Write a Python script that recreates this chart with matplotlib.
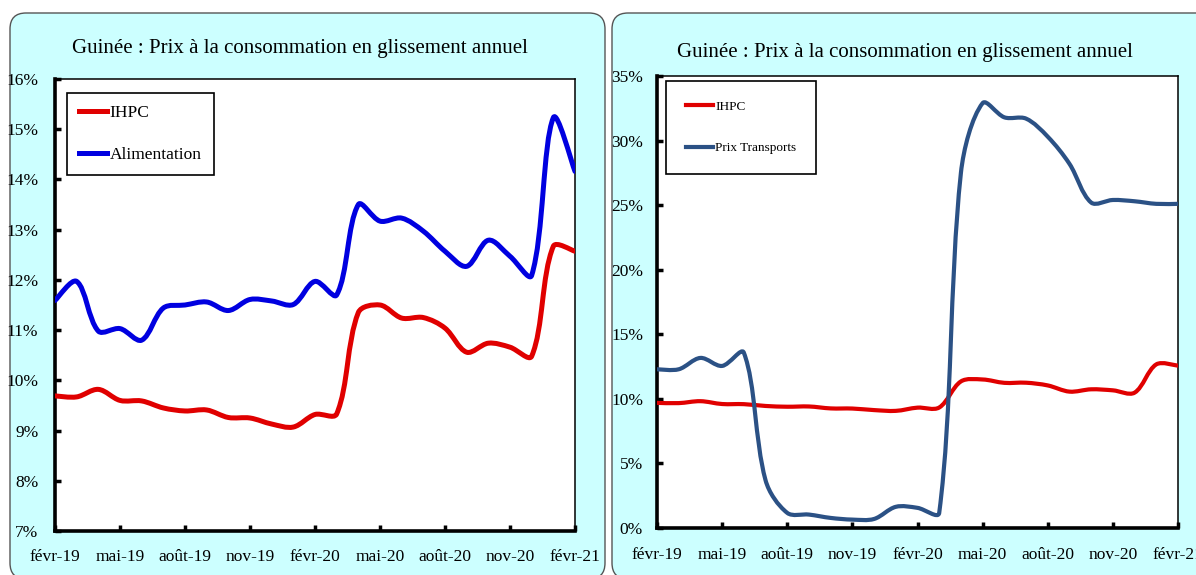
import matplotlib
matplotlib.use("Agg")
import matplotlib.pyplot as plt
import numpy as np
from matplotlib.path import Path
from matplotlib.patches import PathPatch, FancyBboxPatch
from matplotlib.lines import Line2D
from matplotlib.ticker import FuncFormatter

plt.rcParams["font.family"] = ["Liberation Serif", "DejaVu Serif"]

# --------------------------------------------------------------------------
# Data (monthly, févr-19 .. févr-21, % year on year)
# --------------------------------------------------------------------------
months = list(range(25))
tick_pos = [0, 3, 6, 9, 12, 15, 18, 21, 24]
tick_labels = ["févr-19", "mai-19", "août-19", "nov-19", "févr-20",
               "mai-20", "août-20", "nov-20", "févr-21"]

ihpc = [9.69, 9.67, 9.82, 9.60, 9.59, 9.45, 9.39, 9.41, 9.26, 9.25, 9.13, 9.07,
        9.32, 9.33, 11.35, 11.50, 11.24, 11.25, 11.04, 10.56, 10.74, 10.66,
        10.48, 12.67, 12.57]
alimentation = [11.59, 11.97, 10.98, 11.03, 10.80, 11.44, 11.50, 11.56, 11.39,
                11.61, 11.58, 11.51, 11.97, 11.70, 13.50, 13.17, 13.23, 12.97,
                12.57, 12.27, 12.79, 12.47, 12.09, 15.23, 14.16]
transports = [12.29, 12.29, 13.17, 12.55, 13.58, 3.70, 1.17, 1.04, 0.78, 0.65,
              0.70, 1.64, 1.56, 1.17, 27.5, 32.9, 31.8, 31.7, 30.3, 28.2,
              25.2, 25.4, 25.3, 25.1, 25.1]

TITLE = "Guinée : Prix à la consommation en glissement annuel"
RED = "#E00000"
BLUE = "#0000E0"
NAVY = "#2B5185"
CYAN = "#CCFFFF"


def smooth_line(ax, xs, ys, color, lw):
    """Excel-style smoothed line: cubic Bezier through every point,
    control arms weighted by on-screen segment lengths."""
    pts = np.column_stack([xs, ys]).astype(float)
    scr = ax.transData.transform(pts)
    n = len(pts)
    d = np.hypot(*np.diff(scr, axis=0).T)  # screen length of each segment
    verts = [tuple(pts[0])]
    codes = [Path.MOVETO]
    for i in range(n - 1):
        p0, p1 = pts[max(i - 1, 0)], pts[i]
        p2, p3 = pts[i + 1], pts[min(i + 2, n - 1)]
        d01 = d[i - 1] if i > 0 else d[i]
        d23 = d[i + 1] if i + 1 < n - 1 else d[i]
        c1 = p1 + (p2 - p0) * d[i] / (d01 + d[i]) / 3
        c2 = p2 - (p3 - p1) * d[i] / (d[i] + d23) / 3
        verts += [tuple(c1), tuple(c2), tuple(p2)]
        codes += [Path.CURVE4] * 3
    ax.add_patch(PathPatch(Path(verts, codes), fill=False, edgecolor=color,
                           lw=lw, capstyle="round", joinstyle="round",
                           zorder=3))


def style_axes(ax, ymin, ymax, ystep, pad_y, pad_x):
    ax.set_xlim(0, 24)
    ax.set_ylim(ymin, ymax)
    ax.set_xticks(tick_pos)
    ax.set_xticklabels(tick_labels)
    ax.set_yticks(range(ymin, ymax + 1, ystep))
    ax.yaxis.set_major_formatter(FuncFormatter(lambda v, _: f"{v:.0f}%"))
    for side in ("left", "bottom"):
        ax.spines[side].set_linewidth(2.6)
    for side in ("top", "right"):
        ax.spines[side].set_linewidth(1.1)
    ax.tick_params(axis="both", direction="in", length=4, width=2.5,
                   labelsize=12.5)
    ax.tick_params(axis="y", pad=pad_y)
    ax.tick_params(axis="x", pad=pad_x)


fig = plt.figure(figsize=(11.96, 5.75), dpi=100)

# rounded cyan panels (pixel coordinates)
for x0, x1 in [(10, 605), (612, 1215)]:
    fig.patches.append(FancyBboxPatch(
        (x0, -4), x1 - x0, 566, boxstyle="round,pad=0,rounding_size=16",
        transform=None, facecolor=CYAN, edgecolor="#555555", lw=1.0,
        zorder=-10))

# ---------------- left panel ----------------
ax1 = fig.add_axes([55 / 1196, 1 - 531 / 575, 520 / 1196, 452 / 575])
style_axes(ax1, 7, 16, 1, 12, 13)
smooth_line(ax1, months, ihpc, RED, 3.6)
smooth_line(ax1, months, alimentation, BLUE, 3.6)
fig.text(300 / 1196, 1 - 48 / 575, TITLE, ha="center", va="center",
         fontsize=15)
h1 = [Line2D([], [], color=RED, lw=3.6), Line2D([], [], color=BLUE, lw=3.6)]
leg1 = ax1.legend(h1, ["IHPC", "Alimentation"], loc="upper left",
                  bbox_to_anchor=(0.023, 0.969), fontsize=12.5,
                  handlelength=1.6, handletextpad=0.15, labelspacing=1.45,
                  borderpad=0.7, fancybox=False, framealpha=1,
                  borderaxespad=0)
leg1.get_frame().set_edgecolor("black")
leg1.get_frame().set_linewidth(1.2)

# ---------------- right panel ----------------
ax2 = fig.add_axes([657 / 1196, 1 - 528 / 575, 521 / 1196, 452 / 575])
style_axes(ax2, 0, 35, 5, 10, 14)
smooth_line(ax2, months, ihpc, RED, 3.0)
smooth_line(ax2, months, transports, NAVY, 3.0)
fig.text(905 / 1196, 1 - 52 / 575, TITLE, ha="center", va="center",
         fontsize=15)
h2 = [Line2D([], [], color=RED, lw=3.0), Line2D([], [], color=NAVY, lw=3.0)]
leg2 = ax2.legend(h2, ["IHPC", "Prix Transports"], loc="upper left",
                  bbox_to_anchor=(0.017, 0.989), fontsize=9.5,
                  handlelength=2.1, handletextpad=0.15, labelspacing=2.2,
                  borderpad=1.5, fancybox=False, framealpha=1,
                  borderaxespad=0)
leg2.get_frame().set_edgecolor("black")
leg2.get_frame().set_linewidth(1.2)

fig.savefig("out.png", dpi=100)
